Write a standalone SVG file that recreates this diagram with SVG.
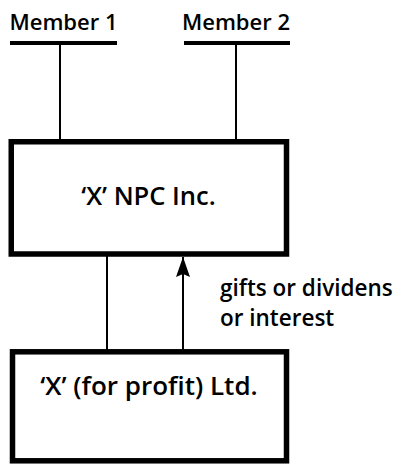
<svg xmlns="http://www.w3.org/2000/svg" width="401" height="464" viewBox="0 0 401 464">
<defs>
<style>
text{font-family:"Open Sans","Liberation Sans",sans-serif;font-weight:600;fill:#000}
.box{fill:#fff;stroke:#000;stroke-width:5.5}
.bar{stroke:#000;stroke-width:4}
.ln{stroke:#000;stroke-width:2;fill:none}
</style>
<marker id="ah" viewBox="0 0 20 14" refX="20" refY="7" markerWidth="20" markerHeight="14" markerUnits="userSpaceOnUse" orient="auto">
<path d="M0,0 L20,7 L0,14 L3,7 Z" fill="#000"/>
</marker>
</defs>
<g id="connectors">
<line class="ln" x1="60" y1="43" x2="60" y2="141"/>
<line class="ln" x1="236" y1="43" x2="236" y2="141"/>
<line class="ln" x1="107" y1="256" x2="107" y2="350"/>
<line class="ln" x1="183" y1="350" x2="183" y2="257" marker-end="url(#ah)"/>
<text x="220" y="296" font-size="22.5">gifts or dividens</text>
<text x="220" y="326" font-size="22.5">or interest</text>
</g>
<g id="member1">
<text x="63.5" y="30" font-size="22" text-anchor="middle">Member 1</text>
<line class="bar" x1="10" y1="43" x2="117" y2="43"/>
</g>
<g id="member2">
<text x="236" y="30" font-size="22" text-anchor="middle">Member 2</text>
<line class="bar" x1="184" y1="43" x2="290" y2="43"/>
</g>
<g id="npc">
<rect class="box" x="11.25" y="141.75" width="275.25" height="112.25"/>
<text x="148.5" y="205" font-size="25.5" text-anchor="middle">‘X’ NPC Inc.</text>
</g>
<g id="ltd">
<rect class="box" x="12.5" y="351.8" width="274" height="109"/>
<text x="149" y="395" font-size="26" text-anchor="middle">‘X’ (for profit) Ltd.</text>
</g>
</svg>
